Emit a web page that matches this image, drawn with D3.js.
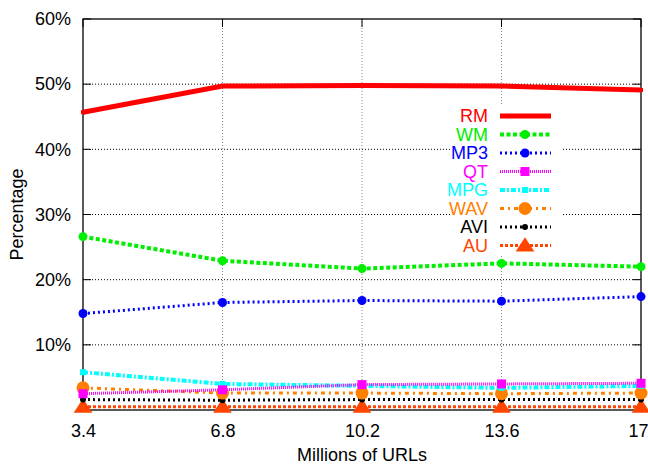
<!DOCTYPE html>
<html>
<head>
<meta charset="utf-8">
<script src="https://cdn.jsdelivr.net/npm/d3@7"></script>
<style>
body { margin: 0; background: #fff; }
text { font-family: "Liberation Sans", Arial, sans-serif; }
</style>
</head>
<body>
<div id="chart"></div>
<script>
// data
var urls = [3.4, 6.8, 10.2, 13.6, 17];
var yTicks = [10, 20, 30, 40, 50, 60];
var names = ["RM", "WM", "MP3", "QT", "MPG", "WAV", "AVI", "AU"];
var rm  = [45.7, 49.7, 49.8, 49.7, 49.1];
var wm  = [26.6, 22.9, 21.7, 22.5, 22.0];
var mp3 = [14.8, 16.5, 16.8, 16.7, 17.4];
var qt  = [2.5, 3.1, 3.9, 4.0, 4.1];
var mpg = [5.8, 4.0, 3.7, 3.4, 3.7];
var wav = [3.4, 2.6, 2.6, 2.5, 2.6];
var avi = [1.6, 1.5, 1.6, 1.6, 1.6];
var au  = [0.5, 0.5, 0.5, 0.5, 0.5];

var values = [rm, wm, mp3, qt, mpg, wav, avi, au];

// look of each series
var styles = [
    {color: "#ff0000", width: 5, dash: null, marker: "square", size: 4},
    {color: "#00ee00", width: 4, dash: "4,2.5", marker: "circle", size: 4.5},
    {color: "#0000ff", width: 3, dash: "2,3", marker: "circle", size: 4.5},
    {color: "#ff00ff", width: 3, dash: "1,1", marker: "square", size: 9},
    {color: "#00ffff", width: 4, dash: "5,2,2,2", marker: "square", size: 6},
    {color: "#ff8000", width: 3, dash: "4,4,2,4", marker: "circle", size: 6.5},
    {color: "#000000", width: 3, dash: "2,3", marker: "circle", size: 3},
    {color: "#ff4500", width: 3, dash: "3,2", marker: "triangle", size: 11}
];

var margin = {top: 19, right: 7, bottom: 55, left: 83};
var W = 648, H = 465;
var width = W - margin.left - margin.right;
var height = H - margin.top - margin.bottom;

var svg = d3.select("#chart").append("svg")
    .attr("width", W)
    .attr("height", H);

var g = svg.append("g")
    .attr("transform", "translate(" + margin.left + "," + margin.top + ")");

var x = d3.scaleLinear().domain([3.4, 17]).range([0, width]);
var y = d3.scaleLinear().domain([0, 60]).range([height, 0]);

// grid
g.selectAll(".hgrid")
    .data(yTicks.filter(function(d) { return d < 60; }))
    .enter().append("line")
    .attr("x1", 0).attr("x2", width)
    .attr("y1", function(d) { return y(d); })
    .attr("y2", function(d) { return y(d); })
    .attr("stroke", "#000")
    .attr("stroke-width", 1)
    .attr("stroke-dasharray", "1,2");

g.selectAll(".vgrid")
    .data(urls.slice(1, -1))
    .enter().append("line")
    .attr("y1", 0).attr("y2", height)
    .attr("x1", function(d) { return x(d); })
    .attr("x2", function(d) { return x(d); })
    .attr("stroke", "#888")
    .attr("stroke-width", 1)
    .attr("stroke-dasharray", "1,2");

// axes
var xAxis = g.append("g")
    .attr("transform", "translate(0," + height + ")")
    .call(d3.axisBottom(x).tickValues(urls).tickSize(0).tickPadding(14)
        .tickFormat(function(d) { return d3.format("")(d); }));
xAxis.select(".domain").remove();
xAxis.selectAll("text").style("font-size", "18px").attr("fill", "#000")
    .attr("dx", function(d) { return d == 17 ? "-3" : null; });

var yAxis = g.append("g")
    .call(d3.axisLeft(y).tickValues(yTicks).tickSize(0).tickPadding(12)
        .tickFormat(function(d) { return d + "%"; }));
yAxis.select(".domain").remove();
yAxis.selectAll("text").style("font-size", "18px").attr("fill", "#000");

// small tick marks, mirrored like gnuplot
yTicks.forEach(function(t) {
    g.append("line").attr("x1", 0).attr("x2", 8).attr("y1", y(t)).attr("y2", y(t)).attr("stroke", "#000");
    g.append("line").attr("x1", width - 8).attr("x2", width).attr("y1", y(t)).attr("y2", y(t)).attr("stroke", "#000");
});
urls.forEach(function(t) {
    g.append("line").attr("x1", x(t)).attr("x2", x(t)).attr("y1", height).attr("y2", height - 8).attr("stroke", "#000");
    g.append("line").attr("x1", x(t)).attr("x2", x(t)).attr("y1", 0).attr("y2", 8).attr("stroke", "#000");
});

// legend background (opaque key)
g.append("rect")
    .attr("x", 452 - margin.left)
    .attr("y", 105 - margin.top)
    .attr("width", 111)
    .attr("height", 151)
    .attr("fill", "#fff");

g.append("rect")
    .attr("width", width).attr("height", height)
    .attr("fill", "none").attr("stroke", "#000").attr("stroke-width", 1.3);

function drawMarker(sel, st, cx, cy) {
    if (st.marker == "circle") {
        sel.append("circle").attr("cx", cx).attr("cy", cy).attr("r", st.size).attr("fill", st.color);
    } else if (st.marker == "square") {
        sel.append("rect").attr("x", cx - st.size / 2).attr("y", cy - st.size / 2)
            .attr("width", st.size).attr("height", st.size).attr("fill", st.color);
    } else {
        var s = st.size;
        sel.append("path")
            .attr("d", "M" + cx + "," + (cy - s * 0.75) + "L" + (cx + s * 0.85) + "," + (cy + s * 0.55) + "L" + (cx - s * 0.85) + "," + (cy + s * 0.55) + "Z")
            .attr("fill", st.color);
    }
}

var line = d3.line()
    .x(function(d, i) { return x(urls[i]); })
    .y(function(d) { return y(d); });

// draw series, last first so RM ends on top
for (var k = values.length - 1; k >= 0; k--) {
    var st = styles[k];
    g.append("path")
        .datum(values[k])
        .attr("d", line)
        .attr("fill", "none")
        .attr("stroke", st.color)
        .attr("stroke-width", st.width)
        .attr("stroke-dasharray", st.dash);
    for (var i = 0; i < urls.length; i++) {
        drawMarker(g, st, x(urls[i]), y(values[k][i]));
    }
}

// legend
var legend = g.append("g");
names.forEach(function(n, i) {
    var st = styles[i];
    var ly = 116 - margin.top + i * 18.5;
    legend.append("text")
        .attr("x", 488 - margin.left)
        .attr("y", ly)
        .attr("dy", "0.35em")
        .attr("text-anchor", "end")
        .style("font-size", "18px")
        .attr("fill", st.color)
        .text(n);
    legend.append("line")
        .attr("x1", 500 - margin.left).attr("x2", 551 - margin.left)
        .attr("y1", ly).attr("y2", ly)
        .attr("stroke", st.color)
        .attr("stroke-width", st.width)
        .attr("stroke-dasharray", st.dash);
    drawMarker(legend, st, 525 - margin.left, ly);
});

// axis labels
svg.append("text")
    .attr("x", margin.left + width / 2)
    .attr("y", 461)
    .attr("text-anchor", "middle")
    .style("font-size", "18px")
    .text("Millions of URLs");

svg.append("text")
    .attr("transform", "translate(23," + (margin.top + height / 2) + ") rotate(-90)")
    .attr("text-anchor", "middle")
    .style("font-size", "18px")
    .text("Percentage");
</script>
</body>
</html>
